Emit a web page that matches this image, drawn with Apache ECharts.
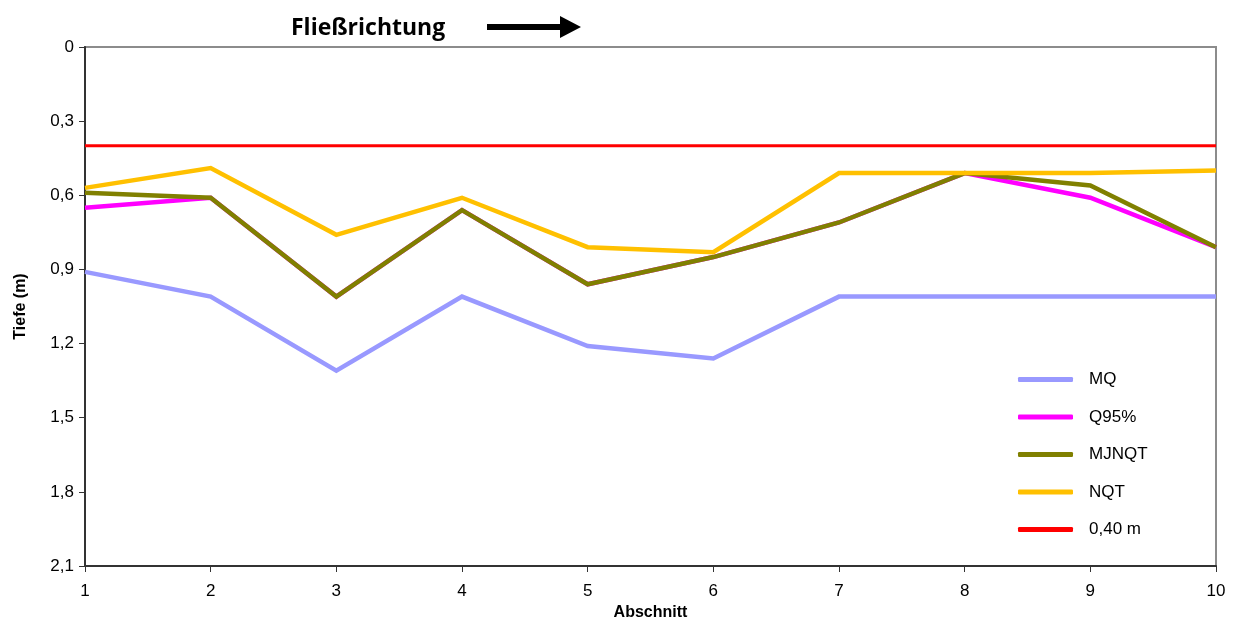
<!DOCTYPE html>
<html>
<head>
<meta charset="utf-8">
<script src="https://cdn.jsdelivr.net/npm/echarts@6/dist/echarts.min.js"></script>
<style>
  html, body { margin: 0; padding: 0; background: #fff; }
  #chart { width: 1237px; height: 622px; }
</style>
</head>
<body>
<div id="chart"></div>
<script>
// Abschnitte entlang des Gewässers
const sections = ['1', '2', '3', '4', '5', '6', '7', '8', '9', '10'];

// Wassertiefen (m) je Abschnitt
const mq     = [0.91, 1.01, 1.31, 1.01, 1.21, 1.26, 1.01, 1.01, 1.01, 1.01];
const q95    = [0.65, 0.61, 1.01, 0.66, 0.96, 0.85, 0.71, 0.51, 0.61, 0.81];
const mjnqt  = [0.59, 0.61, 1.01, 0.66, 0.96, 0.85, 0.71, 0.51, 0.56, 0.81];
const nqt    = [0.57, 0.49, 0.76, 0.61, 0.81, 0.83, 0.51, 0.51, 0.51, 0.50];
const limit  = [0.40, 0.40, 0.40, 0.40, 0.40, 0.40, 0.40, 0.40, 0.40, 0.40];

const seriesNames = ['MQ', 'Q95%', 'MJNQT', 'NQT', '0,40 m'];
const seriesColors = ['#9999FF', '#FF00FF', '#808000', '#FFC000', '#FF0000'];
const yTickStep = 0.3;
const yMax = 2.1;

const chart = echarts.init(document.getElementById('chart'));

function lineSeries(name, data, color, width) {
  return {
    name: name,
    type: 'line',
    data: data,
    symbol: 'none',
    color: color,
    lineStyle: { color: color, width: width, join: 'miter' },
    emphasis: { disabled: true }
  };
}

const option = {
  animation: false,
  backgroundColor: '#fff',
  textStyle: { fontFamily: 'Liberation Sans, Arial, sans-serif' },
  title: {
    text: 'Fließrichtung',
    left: 286,
    top: 12,
    textStyle: { fontFamily: 'Open Sans, sans-serif', fontWeight: 'bold', fontSize: 23, color: '#000' }
  },
  graphic: [
    {
      type: 'polygon',
      shape: { points: [[487, 24], [560, 24], [560, 16], [581, 27], [560, 38], [560, 30], [487, 30]] },
      style: { fill: '#000' }
    }
  ],
  grid: {
    left: 85, right: 21, top: 47, bottom: 56,
    containLabel: false,
    outerBoundsMode: 'none',
    show: true, borderColor: '#8c8c8c', borderWidth: 2, backgroundColor: 'transparent'
  },
  legend: {
    orient: 'vertical',
    left: 1013,
    top: 366,
    itemWidth: 55,
    itemHeight: 5,
    itemGap: 20.5,
    icon: 'roundRect',
    data: seriesNames.map((n, i) => ({ name: n, itemStyle: { color: seriesColors[i] } })),
    textStyle: { fontSize: 17, color: '#000', padding: [0, 0, 0, 11], fontFamily: 'Liberation Sans, Arial, sans-serif' }
  },
  xAxis: {
    type: 'category',
    data: sections,
    boundaryGap: false,
    name: 'Abschnitt',
    nameLocation: 'middle',
    nameGap: 38,
    nameTextStyle: { fontWeight: 'bold', fontSize: 16, color: '#000' },
    axisLine: { onZero: false, lineStyle: { color: '#333', width: 2 } },
    axisTick: { show: true, length: 6, lineStyle: { color: '#333' } },
    axisLabel: { fontSize: 17, color: '#000', margin: 17 },
    splitLine: { show: false }
  },
  yAxis: {
    type: 'value',
    inverse: true,
    min: 0,
    max: yMax,
    interval: yTickStep,
    name: 'Tiefe (m)',
    nameLocation: 'middle',
    nameGap: 56,
    nameTextStyle: { fontWeight: 'bold', fontSize: 16, color: '#000' },
    axisLine: { show: true, onZero: false, lineStyle: { color: '#333', width: 2 } },
    axisTick: { show: true, length: 6, lineStyle: { color: '#333' } },
    axisLabel: {
      fontSize: 17, color: '#000', margin: 11,
      formatter: v => String(parseFloat(v.toFixed(1))).replace('.', ',')
    },
    splitLine: { show: false }
  },
  series: [
    lineSeries('MQ', mq, seriesColors[0], 4.5),
    lineSeries('Q95%', q95, seriesColors[1], 4.5),
    lineSeries('MJNQT', mjnqt, seriesColors[2], 4.5),
    lineSeries('NQT', nqt, seriesColors[3], 4.5),
    lineSeries('0,40 m', limit, seriesColors[4], 3)
  ]
};

chart.setOption(option);
</script>
</body>
</html>
